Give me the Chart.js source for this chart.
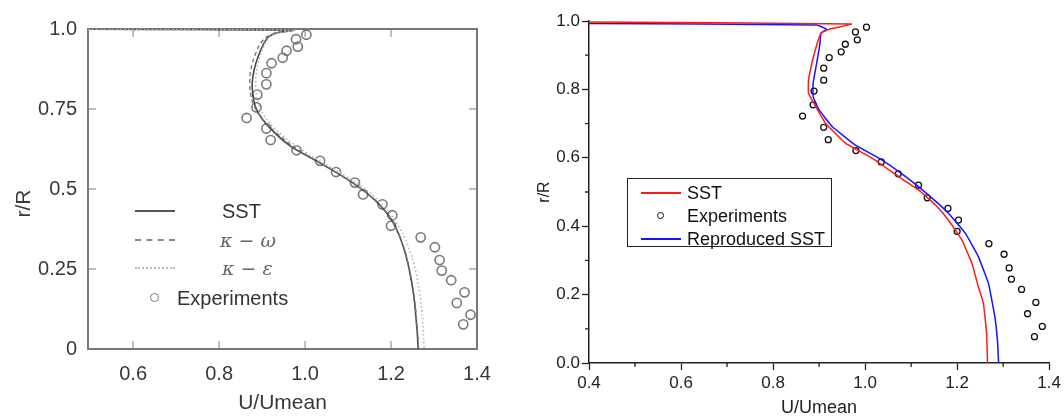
<!DOCTYPE html>
<html><head><meta charset="utf-8">
<script src="https://cdn.jsdelivr.net/npm/chart.js@4.4.1/dist/chart.umd.min.js"></script>
<style>
html,body{margin:0;padding:0;background:#fff;width:1064px;height:417px;overflow:hidden;font-family:"Liberation Sans",Arial,sans-serif;}
#wrapL{position:absolute;left:0;top:0;width:540px;height:417px;}
#wrapR{position:absolute;left:530px;top:0;width:534px;height:417px;}
.abs{position:absolute;white-space:nowrap;}
.lt{font-size:20px;line-height:24px;color:#333;}
.greek{font-family:"DejaVu Serif",serif;font-style:italic;color:#666;font-size:19px;}
#legR{position:absolute;left:627px;top:178px;width:203px;height:67px;border:1px solid #222;background:#fff;}
.rt{font-size:18px;line-height:23px;color:#111;}
</style></head><body>
<div id="wrapL"><canvas id="cL" width="540" height="417"></canvas></div>
<div id="wrapR"><canvas id="cR" width="534" height="417"></canvas></div>
<div id="legL"></div>
<div id="legR"></div>
<script>
// ---------- data ----------
const expX = [1.003,0.979,0.983,0.957,0.948,0.922,0.910,0.910,0.889,0.887,0.864,0.910,0.920,0.980,1.035,1.072,1.116,1.135,1.180,1.203,1.200,1.269,1.302,1.313,1.318,1.340,1.371,1.353,1.385,1.368];
const expY = [0.982,0.968,0.945,0.932,0.910,0.893,0.862,0.827,0.795,0.755,0.722,0.689,0.653,0.621,0.588,0.553,0.520,0.483,0.452,0.418,0.385,0.349,0.318,0.278,0.245,0.215,0.177,0.144,0.107,0.077];

// left figure (published models)
const sstLX = [0.495,0.972,0.935,0.915,0.903,0.891,0.882,0.877,0.880,0.890,0.915,0.965,1.030,1.110,1.165,1.205,1.233,1.252,1.261,1.263];
const sstLY = [0.999,0.996,0.988,0.975,0.952,0.915,0.875,0.830,0.780,0.740,0.695,0.635,0.585,0.520,0.462,0.395,0.300,0.175,0.050,0.000];
const kwX = [0.495,0.972,0.932,0.908,0.893,0.880,0.872,0.872,0.878,0.894,0.925,0.975,1.038,1.113,1.167,1.206,1.234,1.253,1.262,1.264];
const kwY = [0.999,0.996,0.988,0.973,0.948,0.905,0.860,0.810,0.770,0.730,0.685,0.630,0.580,0.518,0.460,0.394,0.299,0.174,0.049,0.000];
const keX = [0.495,0.975,0.938,0.918,0.905,0.893,0.886,0.886,0.895,0.918,0.958,1.015,1.085,1.148,1.193,1.227,1.250,1.265,1.273,1.276,1.277];
const keY = [0.999,0.996,0.988,0.975,0.950,0.905,0.855,0.800,0.752,0.705,0.655,0.603,0.548,0.492,0.432,0.362,0.282,0.192,0.100,0.030,0.000];

// right figure (reproduction)
const sstRX = [0.400,0.970,0.922,0.904,0.896,0.886,0.877,0.877,0.893,0.914,0.958,1.015,1.073,1.116,1.153,1.181,1.210,1.232,1.246,1.257,1.264,1.266];
const sstRY = [0.997,0.991,0.976,0.964,0.935,0.886,0.827,0.789,0.749,0.701,0.642,0.599,0.545,0.506,0.462,0.418,0.360,0.292,0.223,0.175,0.087,0.000];
const repX = [0.400,0.895,0.916,0.904,0.902,0.896,0.887,0.887,0.900,0.929,0.979,1.030,1.088,1.138,1.181,1.218,1.246,1.268,1.282,1.288,1.290];
const repY = [0.993,0.988,0.976,0.964,0.935,0.886,0.818,0.779,0.740,0.691,0.637,0.599,0.545,0.491,0.438,0.379,0.311,0.233,0.135,0.058,0.000];

// ticks
const leftXTicks = [0.6,0.8,1.0,1.2,1.4];
const leftXLabels = ['0.6','0.8','1.0','1.2','1.4'];
const leftYTicks = [0,0.25,0.5,0.75,1.0];
const leftYLabels = ['0','0.25','0.5','0.75','1.0'];
const rightXTicks = [0.4,0.6,0.8,1.0,1.2,1.4];
const rightXLabels = ['0.4','0.6','0.8','1.0','1.2','1.4'];
const rightYTicks = [0,0.2,0.4,0.6,0.8,1.0];
const rightYLabels = ['0.0','0.2','0.4','0.6','0.8','1.0'];
const rightXMinor = [0.5,0.7,0.9,1.1,1.3];
const rightYMinor = [0.1,0.3,0.5,0.7,0.9];

const leftNames = ['SST','κ − ω','κ − ε','Experiments'];
const rightNames = ['SST','Experiments','Reproduced SST'];
const xTitle = 'U/Umean';
const yTitle = 'r/R';

// ---------- helpers ----------
const pts = (xs, ys) => xs.map((x, i) => ({x, y: ys[i]}));
const setTicks = vals => (scale) => { scale.ticks = vals.map(v => ({value: v})); };

const leftFrame = {
  id: 'leftFrame',
  beforeDatasetsDraw(chart) {
    const {ctx, chartArea: a, scales: {x, y}} = chart;
    ctx.save();
    ctx.strokeStyle = '#a8a8a8'; ctx.lineWidth = 1.5;
    ctx.beginPath();
    x.ticks.forEach(t => { const p = x.getPixelForValue(t.value);
      ctx.moveTo(p, a.bottom); ctx.lineTo(p, a.bottom - 8);
      ctx.moveTo(p, a.top); ctx.lineTo(p, a.top + 8); });
    y.ticks.forEach(t => { const p = y.getPixelForValue(t.value);
      ctx.moveTo(a.left, p); ctx.lineTo(a.left + 8, p);
      ctx.moveTo(a.right, p); ctx.lineTo(a.right - 8, p); });
    ctx.stroke();
    ctx.strokeStyle = '#777'; ctx.lineWidth = 2;
    ctx.strokeRect(a.left, a.top, a.right - a.left, a.bottom - a.top);
    ctx.restore();
  }
};

const rightMinor = {
  id: 'rightMinor',
  afterDraw(chart) {
    const {ctx, chartArea: a, scales: {x, y}} = chart;
    ctx.save();
    ctx.strokeStyle = '#222'; ctx.lineWidth = 1.3;
    ctx.beginPath();
    rightXMinor.forEach(v => { const p = x.getPixelForValue(v); ctx.moveTo(p, a.bottom); ctx.lineTo(p, a.bottom + 4); });
    rightYMinor.forEach(v => { const p = y.getPixelForValue(v); ctx.moveTo(a.left, p); ctx.lineTo(a.left - 4, p); });
    ctx.stroke();
    ctx.restore();
  }
};

Chart.defaults.font.family = '"Liberation Sans", Arial, sans-serif';

// ---------- left chart ----------
new Chart(document.getElementById('cL'), {
  type: 'scatter',
  data: { datasets: [
    {label: leftNames[2], data: pts(keX, keY), showLine: true, borderColor: '#b4b4b4', borderWidth: 1.6, borderDash: [1.5, 2.5], pointRadius: 0, tension: 0.25, fill: false},
    {label: leftNames[1], data: pts(kwX, kwY), showLine: true, borderColor: '#777', borderWidth: 1.4, borderDash: [4, 3], pointRadius: 0, tension: 0.25, fill: false},
    {label: leftNames[0], data: pts(sstLX, sstLY), showLine: true, borderColor: '#4a4a4a', borderWidth: 1.6, pointRadius: 0, tension: 0.25, fill: false},
    {label: leftNames[3], data: pts(expX, expY), showLine: false, pointRadius: 4.6, pointBorderWidth: 1.6, pointBorderColor: '#7a7a7a', pointBackgroundColor: 'rgba(0,0,0,0)'}
  ]},
  options: {
    responsive: false, animation: false, devicePixelRatio: 1,
    layout: {padding: {top: 29, right: 63, bottom: 0, left: 0}},
    plugins: {legend: {display: false}, tooltip: {enabled: false}},
    scales: {
      x: {type: 'linear', min: 0.495, max: 1.4,
        afterBuildTicks: setTicks(leftXTicks),
        afterFit: s => { s.height = 68; },
        grid: {display: false, drawTicks: false}, border: {display: false},
        ticks: {autoSkip: false, maxRotation: 0, padding: 13, color: '#383838', font: {size: 20}, callback: (v, i) => leftXLabels[i]},
        title: {display: true, text: xTitle, color: '#383838', font: {size: 21, lineHeight: 1}, padding: {top: 0, bottom: 3}}
      },
      y: {type: 'linear', min: 0, max: 1,
        afterBuildTicks: setTicks(leftYTicks),
        afterFit: s => { s.width = 88; },
        grid: {display: false, drawTicks: false}, border: {display: false},
        ticks: {autoSkip: false, padding: 11, color: '#383838', font: {size: 20}, callback: (v, i) => leftYLabels[i]},
        title: {display: true, text: yTitle + '     ', color: '#383838', font: {size: 21, lineHeight: 1}, padding: {top: 14, bottom: 0}}
      }
    }
  },
  plugins: [leftFrame]
});

// ---------- right chart ----------
new Chart(document.getElementById('cR'), {
  type: 'scatter',
  data: { datasets: [
    {label: rightNames[0], data: pts(sstRX, sstRY), showLine: true, borderColor: '#ff1a1a', borderWidth: 1.5, pointRadius: 0, tension: 0.1, fill: false},
    {label: rightNames[2], data: pts(repX, repY), showLine: true, borderColor: '#1414ff', borderWidth: 1.5, pointRadius: 0, tension: 0.1, fill: false},
    {label: rightNames[1], data: pts(expX, expY), showLine: false, pointRadius: 3, pointBorderWidth: 1.3, pointBorderColor: '#111', pointBackgroundColor: 'rgba(0,0,0,0)'}
  ]},
  options: {
    responsive: false, animation: false, devicePixelRatio: 1,
    layout: {padding: {top: 21, right: 13, bottom: 0, left: 0}},
    plugins: {legend: {display: false}, tooltip: {enabled: false}},
    scales: {
      x: {type: 'linear', min: 0.4, max: 1.4,
        afterBuildTicks: setTicks(rightXTicks),
        afterFit: s => { s.height = 54; },
        grid: {display: true, drawOnChartArea: false, drawTicks: true, tickLength: 7, tickColor: '#222', tickWidth: 1.3},
        border: {display: true, color: '#222', width: 1.5},
        ticks: {autoSkip: false, maxRotation: 0, padding: 3, color: '#222', font: {size: 17}, callback: (v, i) => rightXLabels[i]},
        title: {display: true, text: xTitle, color: '#222', font: {size: 18, lineHeight: 1}, padding: {top: 0, bottom: 0}}
      },
      y: {type: 'linear', min: 0, max: 1,
        afterBuildTicks: setTicks(rightYTicks),
        afterFit: s => { s.width = 59; },
        grid: {display: true, drawOnChartArea: false, drawTicks: true, tickLength: 7, tickColor: '#222', tickWidth: 1.3},
        border: {display: true, color: '#222', width: 1.5},
        ticks: {autoSkip: false, padding: 2, color: '#222', font: {size: 17}, callback: (v, i) => rightYLabels[i]},
        title: {display: true, text: yTitle, color: '#222', font: {size: 16, lineHeight: 1}, padding: {top: 7, bottom: 0}}
      }
    }
  },
  plugins: [rightMinor]
});

// ---------- legends (HTML, text from the label arrays) ----------
(function () {
  const L = document.getElementById('legL');
  const rows = [211, 240, 268, 298];
  const samples = ['2px solid #555', '2px dashed #888', '2px dotted #bbb'];
  const textLeft = [222, 220, 222, 177];
  rows.forEach((cy, i) => {
    if (i < 3) {
      const s = document.createElement('div');
      s.className = 'abs';
      s.style.cssText = `left:135px;top:${cy - 1}px;width:40px;height:0;border-top:${samples[i]};`;
      L.appendChild(s);
    } else {
      const c = document.createElement('div');
      c.className = 'abs';
      c.style.cssText = `left:150px;top:${cy - 5}px;width:7px;height:7px;border:1.6px solid #7a7a7a;border-radius:50%;`;
      L.appendChild(c);
    }
    const t = document.createElement('div');
    t.className = 'abs lt' + (i === 1 || i === 2 ? ' greek' : '');
    t.style.left = textLeft[i] + 'px';
    t.style.top = (cy - 12) + 'px';
    t.textContent = leftNames[i];
    L.appendChild(t);
  });

  const R = document.getElementById('legR');
  const styles = [{line: '#ff1a1a'}, {marker: true}, {line: '#1414ff'}];
  rightNames.forEach((name, i) => {
    const cy = 14 + i * 23; // center relative to box
    if (styles[i].line) {
      const s = document.createElement('div');
      s.className = 'abs';
      s.style.cssText = `left:13px;top:${cy - 1}px;width:40px;height:0;border-top:2px solid ${styles[i].line};`;
      R.appendChild(s);
    } else {
      const c = document.createElement('div');
      c.className = 'abs';
      c.style.cssText = `left:29px;top:${cy - 4}px;width:5px;height:5px;border:1.3px solid #111;border-radius:50%;`;
      R.appendChild(c);
    }
    const t = document.createElement('div');
    t.className = 'abs rt';
    t.style.left = '59px';
    t.style.top = (cy - 11.5) + 'px';
    t.textContent = name;
    R.appendChild(t);
  });
})();
</script>
</body></html>
